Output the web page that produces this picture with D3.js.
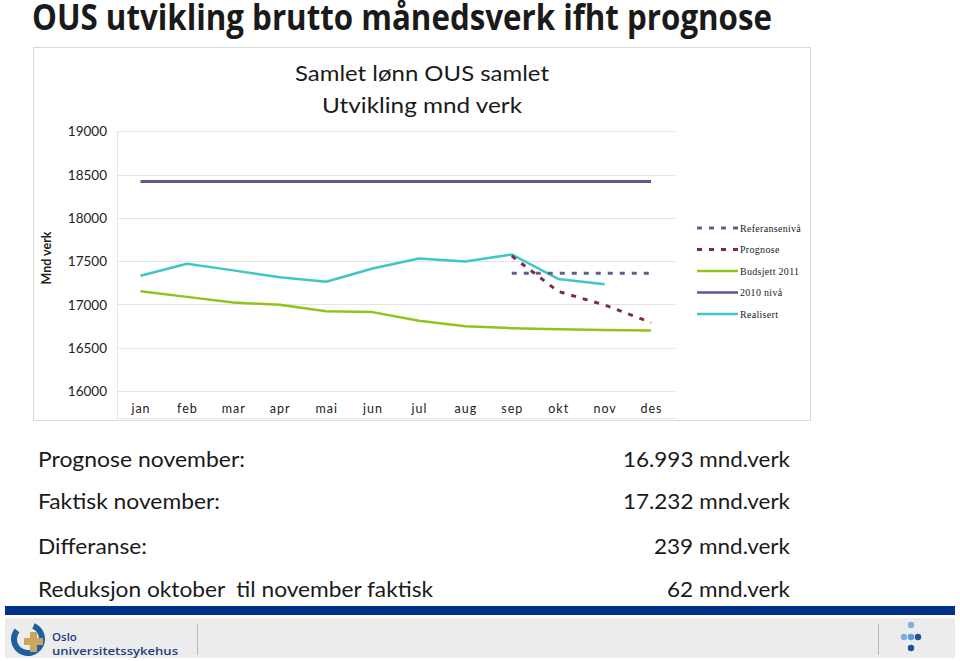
<!DOCTYPE html>
<html>
<head>
<meta charset="utf-8">
<script src="https://cdn.jsdelivr.net/npm/d3@7/dist/d3.min.js"></script>
<style>
  html, body { margin: 0; padding: 0; background: #fff; }
  svg { display: block; }
</style>
</head>
<body>
<svg id="chart" width="960" height="661"></svg>
<script>
// ---- data ----
const months = ["jan","feb","mar","apr","mai","jun","jul","aug","sep","okt","nov","des"];
const yTicks = [16000, 16500, 17000, 17500, 18000, 18500, 19000];
const realisert = [17330, 17470, 17393, 17313, 17262, 17414, 17531, 17495, 17577, 17294, 17232, null];
const budsjett2011 = [17153, 17087, 17022, 16995, 16922, 16911, 16812, 16748, 16726, 16714, 16703, 16700];
const niva2010 = [18420, 18420, 18420, 18420, 18420, 18420, 18420, 18420, 18420, 18420, 18420, 18420];
const prognose = [null, null, null, null, null, null, null, null, 17560, 17150, 16993, 16790];
const referansenivaa = [null, null, null, null, null, null, null, null, 17360, 17360, 17360, 17360];
const legendLabels = ["Referansenivå", "Prognose", "Budsjett 2011", "2010 nivå", "Realisert"];
const summaryLabels = ["Prognose november:", "Faktisk november:", "Differanse:", "Reduksjon oktober\u00a0\u00a0til november faktisk"];
const summaryValues = ["16.993 mnd.verk", "17.232 mnd.verk", "239 mnd.verk", "62 mnd.verk"];

const svg = d3.select("#chart");
const font = "Lato, 'Open Sans', sans-serif";

// main title
svg.append("text").attr("x", 32).attr("y", 30)
  .attr("font-family", "'Open Sans', Lato, sans-serif").attr("font-weight", "bold").attr("font-size", 35)
  .attr("fill", "#1a1a1a").attr("textLength", 740).attr("lengthAdjust", "spacingAndGlyphs")
  .text("OUS utvikling brutto månedsverk ifht prognose");

// chart frame
svg.append("rect").attr("x", 33.5).attr("y", 47.5).attr("width", 777).attr("height", 373)
  .attr("fill", "#fff").attr("stroke", "#d9d9d9").attr("stroke-width", 1);

// chart titles
svg.append("text").attr("x", 422).attr("y", 72).attr("text-anchor", "middle").attr("dominant-baseline", "central")
  .attr("font-family", font).attr("font-size", 21).attr("fill", "#1a1a1a")
  .attr("textLength", 254).attr("lengthAdjust", "spacingAndGlyphs").text("Samlet lønn OUS samlet");
svg.append("text").attr("x", 422).attr("y", 104).attr("text-anchor", "middle").attr("dominant-baseline", "central")
  .attr("font-family", font).attr("font-size", 21).attr("fill", "#1a1a1a")
  .attr("textLength", 200).attr("lengthAdjust", "spacingAndGlyphs").text("Utvikling mnd verk");

// scales
const x = d3.scalePoint().domain(months).range([140.5, 651]);
const y = d3.scaleLinear().domain([16000, 19000]).range([391, 131.2]);

// gridlines
const plotLeft = 117, plotRight = 675;
svg.append("g").selectAll("line").data(yTicks).join("line")
  .attr("x1", plotLeft).attr("x2", plotRight)
  .attr("y1", d => Math.round(y(d)) + 0.5).attr("y2", d => Math.round(y(d)) + 0.5)
  .attr("stroke", "#e4e4e4").attr("stroke-width", 1);
svg.append("line").attr("x1", plotLeft + 0.5).attr("x2", plotLeft + 0.5).attr("y1", 132).attr("y2", 418)
  .attr("stroke", "#e4e4e4");
svg.append("line").attr("x1", plotLeft).attr("x2", plotRight).attr("y1", 418.5).attr("y2", 418.5)
  .attr("stroke", "#e4e4e4");

// y axis labels
const yAxis = d3.axisLeft(y).tickValues(yTicks).tickSize(0).tickPadding(10).tickFormat(d3.format("d"));
const gy = svg.append("g").attr("transform", "translate(107,0)").call(yAxis);
gy.select(".domain").remove();
gy.selectAll("text").attr("font-family", font).attr("font-size", 13.5).attr("fill", "#222")
  .attr("x", 0).attr("dy", "0.35em");

// x axis labels
const xAxis = d3.axisBottom(x).tickSize(0).tickPadding(0);
const gx = svg.append("g").attr("transform", "translate(0,404)").call(xAxis);
gx.select(".domain").remove();
gx.selectAll("text").attr("font-family", font).attr("font-size", 12.5).attr("fill", "#222")
  .attr("letter-spacing", "1px");

// y-axis title
svg.append("text").attr("transform", "translate(46,258) rotate(-90)").attr("text-anchor", "middle")
  .attr("dominant-baseline", "central").attr("font-family", font).attr("font-weight", "bold")
  .attr("font-size", 12.5).attr("fill", "#222").text("Mnd verk");

// series
const series = [
  { name: legendLabels[3], data: niva2010, color: "#5c5a8c", width: 3, dash: null },
  { name: legendLabels[2], data: budsjett2011, color: "#93c21b", width: 2.5, dash: null },
  { name: legendLabels[4], data: realisert, color: "#3ec7c6", width: 2.5, dash: null },
  { name: legendLabels[0], data: referansenivaa, color: "#5f5f8a", width: 3, dash: "5,7" },
  { name: legendLabels[1], data: prognose, color: "#7a2b52", width: 3, dash: "5,7" }
];
const line = d3.line().defined(d => d.v != null).x(d => x(d.m)).y(d => y(d.v));
series.forEach(s => {
  svg.append("path")
    .datum(months.map((m, i) => ({ m, v: s.data[i] })))
    .attr("d", line).attr("fill", "none").attr("stroke", s.color).attr("stroke-width", s.width)
    .attr("stroke-dasharray", s.dash).attr("stroke-linejoin", "round");
});

// legend
const legendOrder = [
  { label: legendLabels[0], color: "#5f5f8a", dash: "5,7", width: 3 },
  { label: legendLabels[1], color: "#7a2b52", dash: "5,7", width: 3 },
  { label: legendLabels[2], color: "#93c21b", dash: null, width: 2.5 },
  { label: legendLabels[3], color: "#5c5a8c", dash: null, width: 2.5 },
  { label: legendLabels[4], color: "#3ec7c6", dash: null, width: 2.5 }
];
const lg = svg.append("g");
legendOrder.forEach((d, i) => {
  const ly = 228 + i * 21.5;
  lg.append("line").attr("x1", 697).attr("x2", 738).attr("y1", ly).attr("y2", ly)
    .attr("stroke", d.color).attr("stroke-width", d.width).attr("stroke-dasharray", d.dash);
  lg.append("text").attr("x", 740).attr("y", ly).attr("dominant-baseline", "central")
    .attr("font-family", "'Liberation Serif', serif").attr("font-size", 10).attr("fill", "#222")
    .attr("letter-spacing", "0.3px").text(d.label);
});

// summary text
const rowsY = [458, 500, 545, 588];
const labelWidths = [207, 182, 109, 395];
const valueWidths = [167, 167, 136, 123];
summaryLabels.forEach((t, i) => {
  svg.append("text").attr("x", 38).attr("y", rowsY[i]).attr("dominant-baseline", "central")
    .attr("font-family", font).attr("font-size", 22).attr("fill", "#1a1a1a")
    .attr("textLength", labelWidths[i]).attr("lengthAdjust", "spacingAndGlyphs").text(t);
});
summaryValues.forEach((t, i) => {
  svg.append("text").attr("x", 790).attr("y", rowsY[i]).attr("dominant-baseline", "central")
    .attr("text-anchor", "end").attr("font-family", font).attr("font-size", 22).attr("fill", "#1a1a1a")
    .attr("textLength", valueWidths[i]).attr("lengthAdjust", "spacingAndGlyphs").text(t);
});

// footer
svg.append("rect").attr("x", 5).attr("y", 606).attr("width", 950).attr("height", 9).attr("fill", "#003087");
svg.append("rect").attr("x", 5).attr("y", 618).attr("width", 950).attr("height", 40).attr("fill", "#ececec");
// logo swirl
svg.append("path").attr("d", d3.arc()({ innerRadius: 11, outerRadius: 17, startAngle: 0.4, endAngle: 2 * Math.PI - 0.9 }))
  .attr("transform", "translate(28,639)").attr("fill", "#1f5fa0");
svg.append("path").attr("d", "M30,632 h7 v6 h6 v7 h-6 v7 h-7 v-7 h-6 v-7 h6 z").attr("fill", "#c8a860");
svg.append("text").attr("x", 52).attr("y", 636).attr("dominant-baseline", "central")
  .attr("font-family", "'Open Sans', sans-serif").attr("font-weight", "600").attr("font-size", 11.5)
  .attr("fill", "#1f3f7f").text("Oslo");
svg.append("text").attr("x", 52).attr("y", 650).attr("dominant-baseline", "central")
  .attr("font-family", "'Open Sans', sans-serif").attr("font-weight", "600").attr("font-size", 11.5)
  .attr("fill", "#1f3f7f").attr("textLength", 126).attr("lengthAdjust", "spacingAndGlyphs").text("universitetssykehus");
svg.append("line").attr("x1", 197.5).attr("x2", 197.5).attr("y1", 624).attr("y2", 655).attr("stroke", "#b8b8b8");
svg.append("line").attr("x1", 878.5).attr("x2", 878.5).attr("y1", 624).attr("y2", 655).attr("stroke", "#b8b8b8");
const dots = [[911, 625, "#7fb0e0"], [904, 637, "#7fb0e0"], [911, 637, "#5c9ad6"], [918, 637, "#1f4f9f"], [911, 648, "#1f4f9f"]];
svg.append("g").selectAll("circle").data(dots).join("circle")
  .attr("cx", d => d[0]).attr("cy", d => d[1]).attr("r", 3.2).attr("fill", d => d[2]);
</script>
</body>
</html>
